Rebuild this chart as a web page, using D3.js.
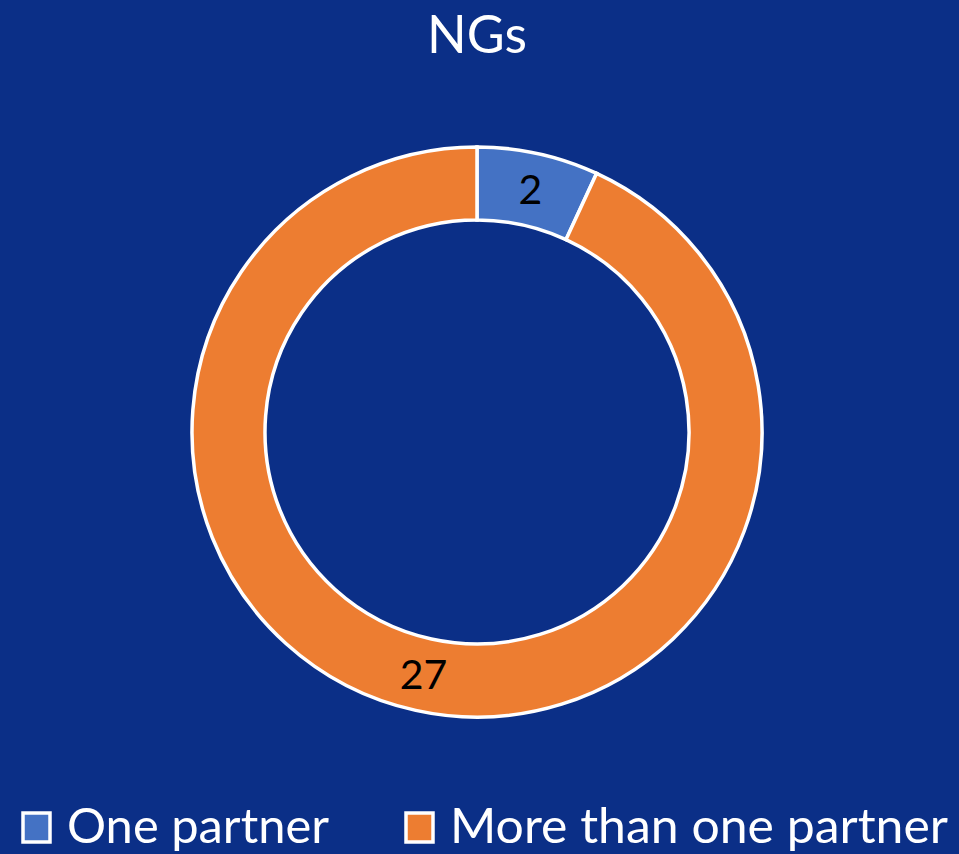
<!DOCTYPE html>
<html>
<head>
<meta charset="utf-8">
<script src="https://cdn.jsdelivr.net/npm/d3@7"></script>
<style>
  html, body { margin: 0; padding: 0; background: #0b2f87; }
  svg { display: block; }
</style>
</head>
<body>
<div id="chart"></div>
<script>
const title = 'NGs';
const categories = ['One partner', 'More than one partner'];
const values = [2, 27];
const colors = ['#4472c4', '#ed7d31'];

const width = 959;
const height = 854;
const font = 'Lato, "Open Sans", sans-serif';

const svg = d3.select('#chart').append('svg').attr('width', width).attr('height', height);
svg.append('rect').attr('width', width).attr('height', height).attr('fill', '#0b2f87');

svg.append('text')
  .attr('x', 477)
  .attr('y', 53)
  .attr('text-anchor', 'middle')
  .attr('fill', '#fff')
  .style('font-family', font)
  .style('font-size', '52px')
  .text(title);

const cx = 477, cy = 432;
const outerR = 285, innerR = 212;

const pie = d3.pie().sort(null).value(d => d);
const arc = d3.arc().innerRadius(innerR).outerRadius(outerR);
const arcs = pie(values);

const g = svg.append('g').attr('transform', `translate(${cx},${cy})`);

g.selectAll('path')
  .data(arcs)
  .enter()
  .append('path')
  .attr('d', arc)
  .attr('fill', (d, i) => colors[i])
  .attr('stroke', '#fff')
  .attr('stroke-width', 3.5);

g.selectAll('.lbl')
  .data(arcs)
  .enter()
  .append('text')
  .attr('class', 'lbl')
  .attr('transform', d => `translate(${arc.centroid(d)})`)
  .attr('text-anchor', 'middle')
  .attr('dy', '0.36em')
  .attr('fill', '#000')
  .style('font-family', font)
  .style('font-size', '41px')
  .text(d => d.data);

// legend
const legendX = [23, 406];
const legend = svg.append('g').attr('class', 'legend');
categories.forEach((c, i) => {
  legend.append('rect')
    .attr('x', legendX[i])
    .attr('y', 813)
    .attr('width', 27)
    .attr('height', 29)
    .attr('fill', colors[i])
    .attr('stroke', '#fff')
    .attr('stroke-width', 3.5);
  legend.append('text')
    .attr('x', legendX[i] + 44)
    .attr('y', 843)
    .attr('fill', '#fff')
    .style('font-family', font)
    .style('font-size', '48px')
    .attr('textLength', i === 0 ? 262 : 498)
    .attr('lengthAdjust', 'spacingAndGlyphs')
    .text(c);
});
</script>
</body>
</html>
